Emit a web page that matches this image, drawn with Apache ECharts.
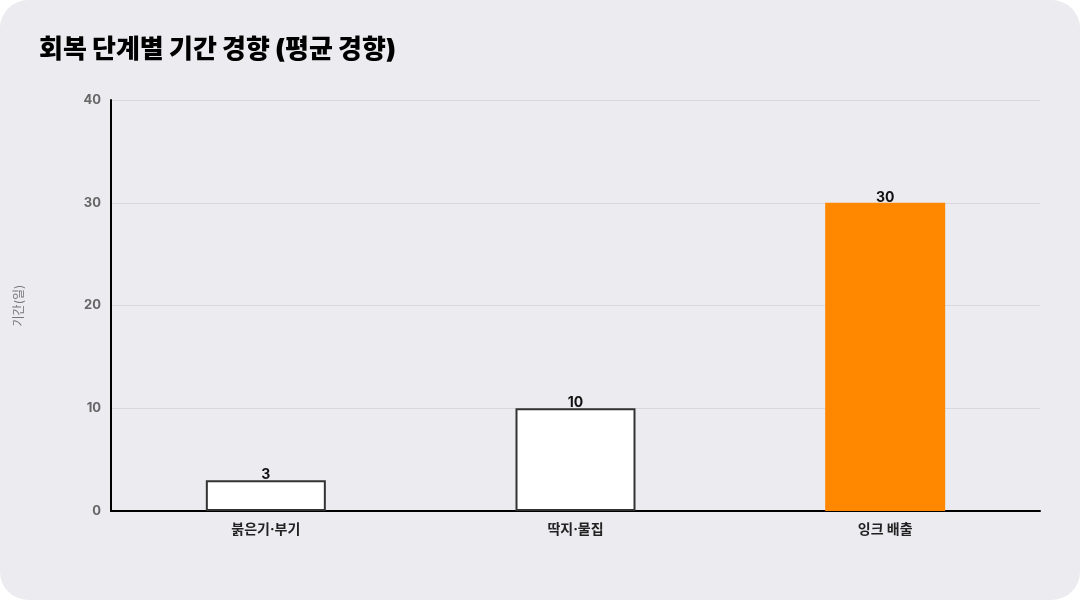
<!DOCTYPE html>
<html><head><meta charset="utf-8">
<script src="https://cdn.jsdelivr.net/npm/echarts@6/dist/echarts.min.js"></script>
<style>
html,body{margin:0;padding:0;background:#ffffff;}
#c{width:1080px;height:600px;background:#ECEBF0;border-radius:28px;overflow:hidden;}
</style></head>
<body><div id="c"></div>
<script>
const categories = ['붉은기·부기', '딱지·물집', '잉크 배출'];
const durations = [3, 10, 30];
const barColors = ['#FFFFFF', '#FFFFFF', '#FF8800'];
const borderColors = ['#333333', '#333333', '#FF8800'];
const yTicks = [0, 10, 20, 30, 40];

const font = "Inter, 'Noto Sans CJK KR', sans-serif";
const chart = echarts.init(document.getElementById('c'), null, {renderer:'canvas'});
chart.setOption({
  backgroundColor: 'transparent',
  animation: false,
  textStyle: {fontFamily: font},
  title: {
    text: '회복 단계별 기간 경향 (평균 경향)',
    left: 34, top: 32,
    textStyle: {fontFamily: font, fontSize: 26, fontWeight: 900, color: '#000000'}
  },
  grid: {left: 111, right: 40, top: 100, bottom: 89},
  xAxis: {
    type: 'category',
    data: categories,
    axisLine: {lineStyle: {color: '#000000', width: 2}},
    axisTick: {show: false},
    axisLabel: {color: '#222222', fontSize: 14, fontWeight: 'bold', margin: 12, fontFamily: font}
  },
  yAxis: {
    type: 'value',
    min: yTicks[0], max: yTicks[yTicks.length-1], interval: 10,
    name: '기간(일)',
    nameLocation: 'middle',
    nameGap: 86,
    nameRotate: 90,
    nameTextStyle: {color: '#777777', fontSize: 12, fontFamily: font},
    axisLine: {show: true, lineStyle: {color: '#000000', width: 2}},
    axisTick: {show: false},
    axisLabel: {color: '#666666', fontSize: 13, fontWeight: 'bold', margin: 10, fontFamily: font},
    splitLine: {lineStyle: {color: '#D8D7DC', width: 1}}
  },
  series: [{
    type: 'bar',
    barWidth: 120,
    data: durations.map((v, i) => ({
      value: v,
      itemStyle: {color: barColors[i], borderColor: borderColors[i], borderWidth: i < 2 ? 2 : 0}
    })),
    label: {show: true, position: 'top', distance: -2, color: '#111111', fontSize: 14, fontWeight: 'bold', fontFamily: font}
  }]
});
</script></body></html>
